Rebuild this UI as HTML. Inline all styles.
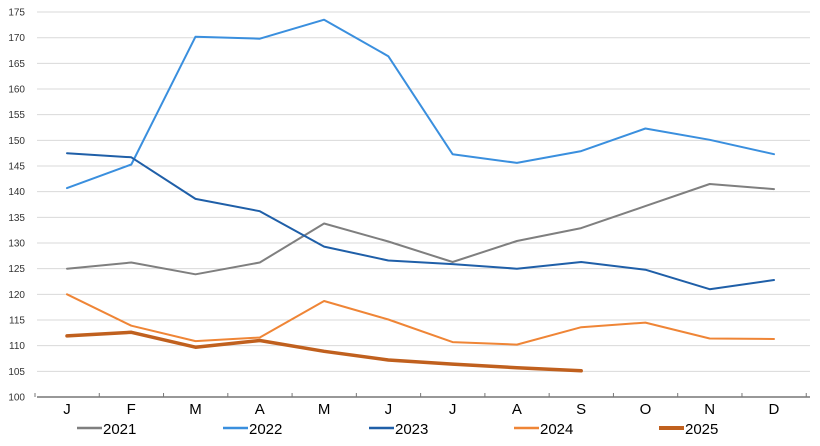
<!DOCTYPE html>
<html><head><meta charset="utf-8"><style>body{margin:0;background:#fff}svg{display:block}</style></head><body>
<svg width="820" height="446" xmlns="http://www.w3.org/2000/svg" font-family="Liberation Sans, sans-serif">
<g id="grid" stroke="#d9d9d9" stroke-width="1"></g>
<g id="yl" font-size="10" fill="#333" text-anchor="end"></g>
<g id="ax"></g>
<g id="xl" font-size="15" fill="#000" text-anchor="middle"></g>
<g id="lines" fill="none" stroke-linejoin="round" stroke-linecap="round"></g>
<g font-size="15" fill="#000">
<line x1="77" y1="428" x2="102" y2="428" stroke="#7f7f7f" stroke-width="2.5"/><text x="103" y="434">2021</text>
<line x1="223" y1="428" x2="248" y2="428" stroke="#3a8fde" stroke-width="2.5"/><text x="249" y="434">2022</text>
<line x1="369" y1="428" x2="394" y2="428" stroke="#1f5fa8" stroke-width="2.5"/><text x="395" y="434">2023</text>
<line x1="514" y1="428" x2="539" y2="428" stroke="#ef8536" stroke-width="2.5"/><text x="540" y="434">2024</text>
<line x1="659" y1="428" x2="684" y2="428" stroke="#c0601e" stroke-width="4"/><text x="685" y="434">2025</text>
</g>
</svg>
<script>
const ns="http://www.w3.org/2000/svg";
function el(p,t,a,txt){const e=document.createElementNS(ns,t);for(const k in a)e.setAttribute(k,a[k]);if(txt!==undefined)e.textContent=txt;document.getElementById(p).appendChild(e);}
const Y=v=>397-(v-100)*5.133, X=i=>67+64.27*i;
for(let v=105;v<=175;v+=5){el('grid','line',{x1:37,x2:810,y1:Y(v),y2:Y(v)});}
for(let v=100;v<=175;v+=5){el('yl','text',{x:25,y:Y(v)+3.5},v);}
el('ax','line',{x1:37,x2:810,y1:397,y2:397,stroke:'#777','stroke-width':1.5});
for(let k=0;k<=12;k++){const x=35+64.27*k;el('ax','line',{x1:x,x2:x,y1:393,y2:397,stroke:'#777','stroke-width':1});}
"JFMAMJJASOND".split('').forEach((m,i)=>el('xl','text',{x:X(i),y:414},m));
const S=[
["#7f7f7f",2,[125,126.2,123.9,126.2,133.8,130.3,126.3,130.4,132.9,137.2,141.5,140.5]],
["#3a8fde",2,[140.7,145.3,170.2,169.8,173.5,166.4,147.3,145.6,147.9,152.3,150.1,147.3]],
["#1f5fa8",2,[147.5,146.7,138.6,136.2,129.3,126.6,125.9,125,126.3,124.8,121,122.8]],
["#ef8536",2,[120,113.9,110.9,111.6,118.7,115.1,110.7,110.2,113.6,114.5,111.4,111.3]],
["#c0601e",3.5,[111.9,112.6,109.7,111,108.9,107.2,106.4,105.7,105.1]]];
S.forEach(([c,w,d])=>el('lines','polyline',{stroke:c,'stroke-width':w,points:d.map((v,i)=>X(i).toFixed(1)+','+Y(v).toFixed(1)).join(' ')}));
</script>
</body></html>
